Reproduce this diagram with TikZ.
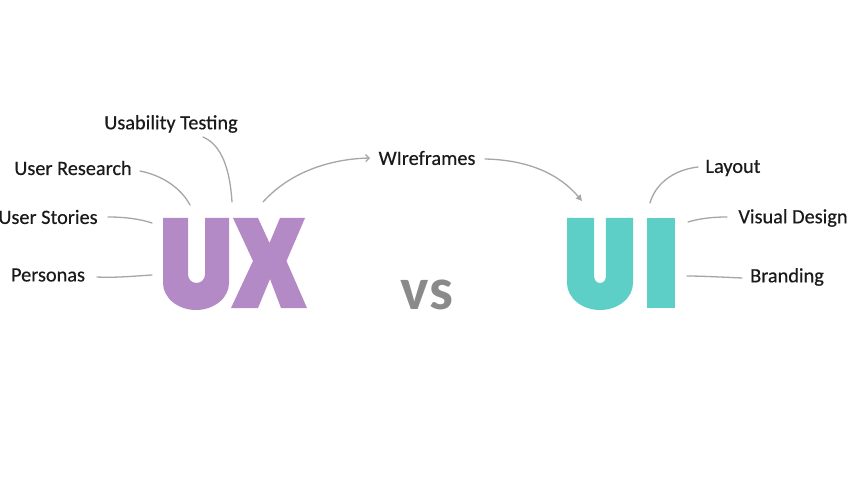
\documentclass[tikz,border=0pt]{standalone}
\usepackage{fontspec}
\setmainfont{Carlito}
\newfontfamily\lblfont{Carlito}[FakeBold=0.4]
\usetikzlibrary{arrows.meta}
\definecolor{uxpurple}{HTML}{B48AC6}
\definecolor{uiteal}{HTML}{5ECFC6}
\definecolor{vsgray}{HTML}{8A8A8A}
\definecolor{linegray}{HTML}{A6A6A6}
\definecolor{txt}{HTML}{1A1A1A}
\tikzset{
  lbl/.style={text=txt, inner sep=0pt, font=\lblfont\fontsize{20.3}{23}\selectfont},
  conn/.style={draw=linegray, line width=1.3pt, line cap=round},
  uxfill/.style={fill=uxpurple},
  uifill/.style={fill=uiteal},
}
\begin{document}
\begin{tikzpicture}[x=1pt,y=-1pt]
\useasboundingbox[fill=white] (0,0) rectangle (850,478);

% UX letters
\fill[uxfill] (163,218) -- (163,283)
  .. controls (163,297.9) and (177.8,310) .. (196,310)
  .. controls (214.2,310) and (229,297.9) .. (229,283)
  -- (229,218) -- (205,218) -- (205,274.5)
  .. controls (205,279.2) and (201.2,283) .. (196.5,283)
  .. controls (191.8,283) and (188,279.2) .. (188,274.5)
  -- (188,218) -- cycle;
\fill[uxfill] (233,218) -- (258,218) -- (269.5,243) -- (280,218) -- (305,218)
  -- (286.5,261) -- (307,308) -- (281,308) -- (270,279) -- (258,308)
  -- (231,308) -- (253,261) -- cycle;

% UI letters
\fill[uifill] (567,218) -- (567,283)
  .. controls (567,297.9) and (581.8,310) .. (600,310)
  .. controls (618.2,310) and (633,297.9) .. (633,283)
  -- (633,218) -- (605.8,218) -- (605.8,277)
  .. controls (605.8,280.3) and (603.2,283) .. (600,283)
  .. controls (596.8,283) and (594.2,280.3) .. (594.2,277)
  -- (594.2,218) -- cycle;
\fill[uifill] (647,218) rectangle (674.5,307.5);

% vs
\node[text=vsgray, inner sep=0pt, font=\fontsize{60}{60}\selectfont\bfseries] (vs) at (427,295) {vs};

% labels
\node[lbl] (ut) at (171,124) {Usability Testing};
\node[lbl] (ur) at (73,168) {User Research};
\node[lbl] (us) at (48,217) {User Stories};
\node[lbl] (pe) at (48,275) {Personas};
\node[lbl] (wf) at (427,158) {WIreframes};
\node[lbl] (la) at (733,168) {Layout};
\node[lbl] (vd) at (793,218) {Visual Design};
\node[lbl] (br) at (787,277) {Branding};

% connector end points
\coordinate (utA) at (203,137);  \coordinate (utB) at (232,202);
\coordinate (urA) at (140,171);  \coordinate (urB) at (190,205);
\coordinate (usA) at (108,217);  \coordinate (usB) at (152,223);
\coordinate (peA) at (97,277);   \coordinate (peB) at (152,275);
\coordinate (uxA) at (263,202);  \coordinate (wfA) at (370,158);
\coordinate (wfB) at (485,159);  \coordinate (uiA) at (582,201);
\coordinate (laA) at (698,167);  \coordinate (laB) at (650,203);
\coordinate (vdA) at (727,217);  \coordinate (vdB) at (688,222);
\coordinate (brA) at (742,278);  \coordinate (brB) at (687,276);

% connectors
\draw[conn] (utA) .. controls (222,145) and (230,170) .. (utB);
\draw[conn] (urA) .. controls (165,176) and (182,190) .. (urB);
\draw[conn] (usA) .. controls (125,217) and (140,219) .. (usB);
\draw[conn] (peA) .. controls (115,278) and (135,276) .. (peB);
\draw[conn, -{Straight Barb[length=3.5pt,width=7pt]}] (uxA) .. controls (290,172) and (330,159) .. (wfA);
\draw[conn, -{Triangle[length=6pt,width=6pt]}] (wfB) .. controls (530,160) and (560,175) .. (uiA);
\draw[conn] (laA) .. controls (672,170) and (655,185) .. (laB);
\draw[conn] (vdA) .. controls (710,217) and (698,219) .. (vdB);
\draw[conn] (brA) .. controls (720,277) and (700,276) .. (brB);
\end{tikzpicture}
\end{document}
